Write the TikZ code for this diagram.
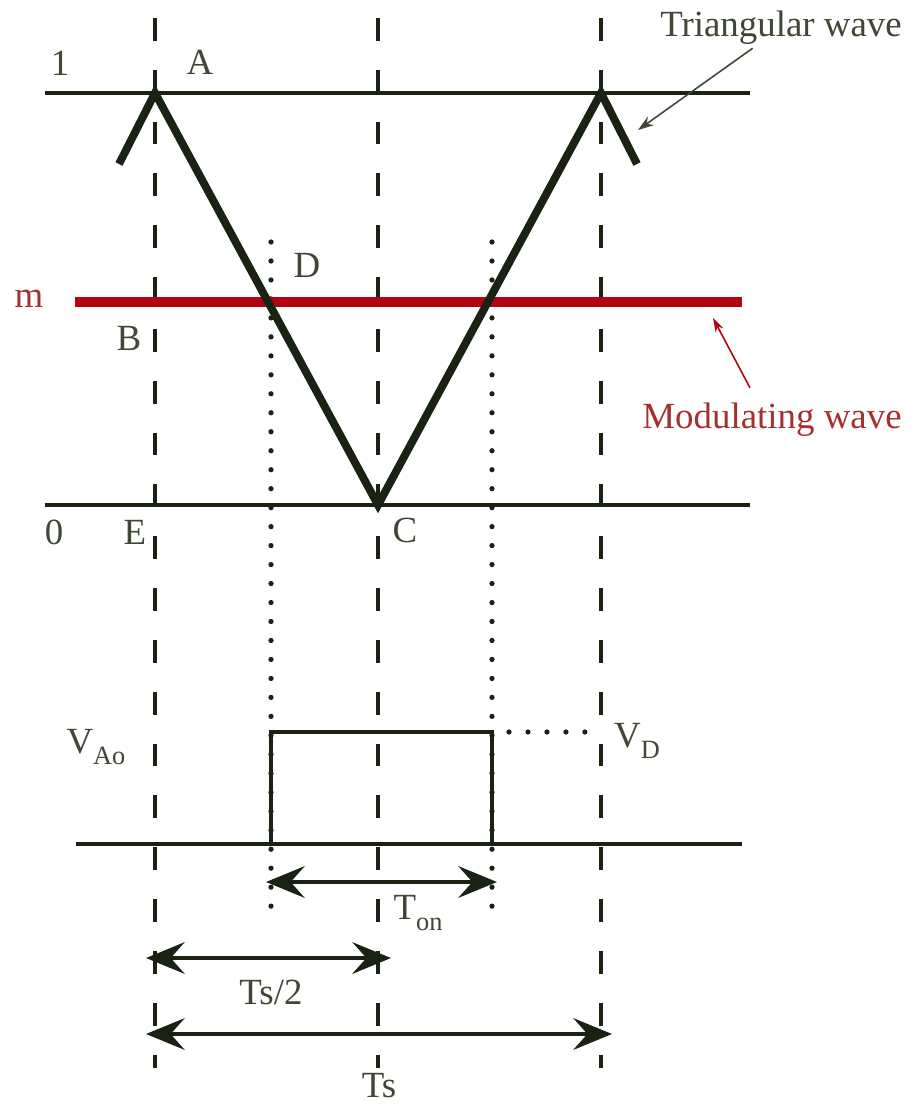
\documentclass[tikz,border=0pt]{standalone}
\usepackage{fontspec}
\setmainfont{Liberation Serif}
\usepackage{xcolor}
\usepackage{tikz}
\usetikzlibrary{arrows.meta, positioning, calc}

\definecolor{wavegreen}{RGB}{26,34,20}
\definecolor{labelgray}{RGB}{62,72,52}
\definecolor{modred}{RGB}{178,4,18}
\definecolor{modtext}{RGB}{165,48,48}

\newcommand{\lowsub}[1]{\raisebox{-0.6ex}{\fontsize{15}{15}\selectfont #1}}

\begin{document}
\begin{tikzpicture}[
    x=0.02cm, y=-0.02cm,
    >={Stealth[length=22pt, width=18pt, inset=8pt]},
    lbl/.style={font=\fontsize{21}{25}\selectfont, text=labelgray, inner sep=0pt},
    redlbl/.style={lbl, text=modtext},
    level/.style={line width=2.3pt, draw=wavegreen},
    guide/.style={line width=2.4pt, draw=wavegreen, dash pattern=on 13pt off 16.5pt},
    dots/.style={line width=3pt, draw=wavegreen, line cap=round, dash pattern=on 0pt off 10.8pt},
    tri/.style={line width=4.5pt, draw=wavegreen, line join=miter},
    modwave/.style={line width=5.7pt, draw=modred},
    pulse/.style={line width=2.2pt, draw=wavegreen},
    span/.style={<->, line width=2.3pt, draw=wavegreen},
    ptr/.style={-{Stealth[length=9pt, width=6pt]}, line width=0.9pt, draw=labelgray},
    redptr/.style={-{Stealth[length=8pt, width=5pt]}, line width=0.9pt, draw=modred}
]
\useasboundingbox (0,0) rectangle (917,1108);

% Key points of the carrier
\coordinate (stubL) at (119,164);
\coordinate (peakL) at (155,93);
\coordinate (trough) at (378,505);
\coordinate (peakR) at (601,93);
\coordinate (stubR) at (637,164);

% Vertical guides (dashed = carrier period, dotted = switching instants)
\draw[guide] (155,18) -- (155,1068);
\draw[guide] (378,18) -- (378,1068);
\draw[guide] (601,18) -- (601,1068);
\draw[dots] (271,242) -- (271,918);
\draw[dots] (492,242) -- (492,918);

% Levels 1 and 0
\draw[level] (45,93) -- (750,93);
\draw[level] (45,505) -- (750,505);

% Modulating wave and triangular carrier
\draw[modwave] (75,302) -- (742,302);
\draw[tri] (stubL) -- (peakL) -- (trough) -- (peakR) -- (stubR);

% Output pulse
\draw[pulse] (76,844) -- (742,844);
\draw[pulse] (271,844) -- (271,732) -- (492,732) -- (492,844);
\draw[dots] (509,732) -- (594,732);

% Labels
\node[lbl] (one) at (60,63) {1};
\node[lbl] (lblA) at (200,62) {A};
\node[lbl] (triLbl) at (781,28) {Triangular wave};
\node[lbl] (lblD) at (307,265) {D};
\node[redlbl] (lblm) at (29,299) {m};
\node[lbl] (lblB) at (129,338) {B};
\node[redlbl] (modLbl) at (772,420) {Modulating wave};
\node[lbl] (zero) at (54,532) {0};
\node[lbl] (lblE) at (135,532) {E};
\node[lbl] (lblC) at (405,530) {C};
\node[lbl] (vao) at (96,747) {V\lowsub{Ao}};
\node[lbl] (vd) at (637,741) {V\lowsub{D}};
\node[lbl] (tonLbl) at (418,913) {T\lowsub{on}};
\node[lbl] (halfLbl) at (271,992) {Ts/2};
\node[lbl] (fullLbl) at (379,1086) {Ts};

% Pointers to the waves
\coordinate (triTip) at (638,130);
\coordinate (modTip) at (713,318);
\draw[ptr, shorten <=3pt] (triLbl) -- (triTip);
\draw[redptr] ($(modLbl.north)+(-22,-15)$) -- (modTip);

% Time spans
\coordinate (tonL) at (266,882);
\coordinate (tonR) at (497,882);
\coordinate (halfL) at (146,958);
\coordinate (halfR) at (391,958);
\coordinate (fullL) at (146,1034);
\coordinate (fullR) at (612,1034);
\draw[span] (tonL) -- (tonR);
\draw[span] (halfL) -- (halfR);
\draw[span] (fullL) -- (fullR);

\end{tikzpicture}
\end{document}
